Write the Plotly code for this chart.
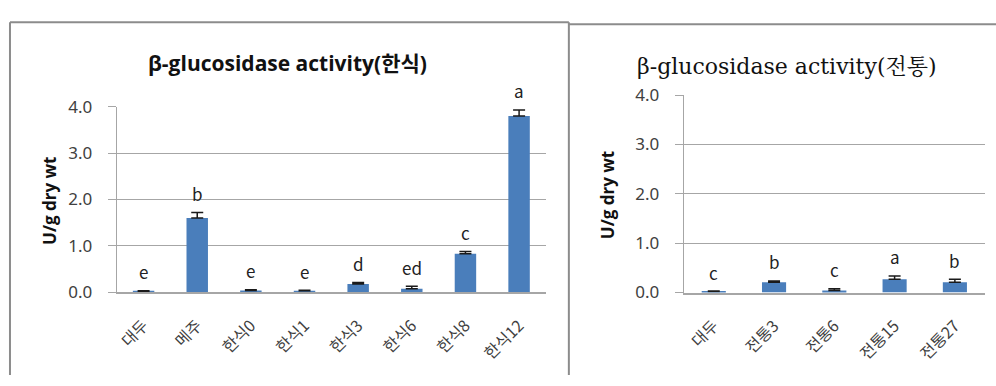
import plotly.graph_objects as go

# ---- data ----
cats_left = ["대두", "메주", "한식0", "한식1", "한식3", "한식6", "한식8", "한식12"]
vals_left = [0.02, 1.60, 0.04, 0.03, 0.18, 0.075, 0.83, 3.80]
errs_left = [0.01, 0.12, 0.015, 0.015, 0.03, 0.055, 0.05, 0.13]
letters_left = ["e", "b", "e", "e", "d", "ed", "c", "a"]

cats_right = ["대두", "전통3", "전통6", "전통15", "전통27"]
vals_right = [0.02, 0.21, 0.04, 0.27, 0.21]
errs_right = [0.01, 0.025, 0.035, 0.065, 0.06]
letters_right = ["c", "b", "c", "a", "b"]

title_left = "β-glucosidase activity(한식)"
title_right = "β-glucosidase activity(전통)"
ytitle = "U/g dry wt"
yticks = [0, 1, 2, 3, 4]

W, H = 996, 386
BAR = "#4a7ebb"
GRID = "#a6a6a6"
TICKC = "#404040"
KFONT = "Noto Sans CJK KR, Noto Sans, sans-serif"


def px(x):
    return x / W


def py(y):
    return 1 - y / H


fig = go.Figure()
fig.add_trace(go.Bar(
    x=cats_left, y=vals_left, xaxis="x", yaxis="y",
    marker=dict(color=BAR, line=dict(width=0)), width=0.4,
    error_y=dict(type="data", symmetric=False, array=errs_left, arrayminus=[0] * len(errs_left),
                 color="#1a1a1a", thickness=1.5, width=6),
    showlegend=False,
))
fig.add_trace(go.Bar(
    x=cats_right, y=vals_right, xaxis="x2", yaxis="y2",
    marker=dict(color=BAR, line=dict(width=0)), width=0.4,
    error_y=dict(type="data", symmetric=False, array=errs_right, arrayminus=[0] * len(errs_right),
                 color="#1a1a1a", thickness=1.5, width=6),
    showlegend=False,
))

annotations = []
for c, v, e, l in zip(cats_left, vals_left, errs_left, letters_left):
    annotations.append(dict(x=c, y=v + e, xref="x", yref="y", text=l, showarrow=False,
                            yanchor="middle", yshift=19,
                            font=dict(family=KFONT, size=17, color="#222222")))
for c, v, e, l in zip(cats_right, vals_right, errs_right, letters_right):
    annotations.append(dict(x=c, y=v + e, xref="x2", yref="y2", text=l, showarrow=False,
                            yanchor="middle", yshift=19,
                            font=dict(family=KFONT, size=17, color="#222222")))

# titles
annotations.append(dict(x=px(286), y=py(54), xref="paper", yref="paper", text="<b>" + title_left + "</b>",
                        showarrow=False, xanchor="center", yanchor="middle",
                        font=dict(family="Open Sans, Noto Sans CJK KR", size=21, color="#111111")))
annotations.append(dict(x=px(787), y=py(58), xref="paper", yref="paper", text=title_right,
                        showarrow=False, xanchor="center", yanchor="middle",
                        font=dict(family="DejaVu Serif, Noto Serif CJK KR, Noto Sans CJK KR", size=22, color="#111111")))
# y-axis titles
annotations.append(dict(x=px(47), y=py(201), xref="paper", yref="paper", text="<b>" + ytitle + "</b>",
                        showarrow=False, textangle=-90, xanchor="center", yanchor="middle",
                        font=dict(family="Open Sans, sans-serif", size=17, color="#111111")))
annotations.append(dict(x=px(607), y=py(195), xref="paper", yref="paper", text="<b>" + ytitle + "</b>",
                        showarrow=False, textangle=-90, xanchor="center", yanchor="middle",
                        font=dict(family="Open Sans, sans-serif", size=17, color="#111111")))

shapes = [
    # left panel border
    dict(type="line", xref="paper", yref="paper", x0=px(8), x1=px(8), y0=0, y1=py(11),
         line=dict(color="#8c8c8c", width=2)),
    dict(type="line", xref="paper", yref="paper", x0=px(8), x1=px(568), y0=py(11), y1=py(11),
         line=dict(color="#8c8c8c", width=2)),
    dict(type="line", xref="paper", yref="paper", x0=px(568), x1=px(568), y0=0, y1=py(11),
         line=dict(color="#8c8c8c", width=2)),
    # right panel top border
    dict(type="line", xref="paper", yref="paper", x0=px(568), x1=1, y0=py(13), y1=py(13),
         line=dict(color="#8c8c8c", width=2)),
]

axis_common = dict(
    range=[0, 4], tickvals=yticks, tickformat=".1f",
    showgrid=True, gridcolor=GRID, gridwidth=1,
    ticks="outside", ticklen=8, tickcolor=GRID,
    showline=True, linecolor=GRID, linewidth=1,
    zeroline=False, fixedrange=True, ticklabelstandoff=12,
    tickfont=dict(family="Noto Sans, sans-serif", size=17, color=TICKC),
)
xaxis_common = dict(
    showgrid=False, showline=True, linecolor=GRID, linewidth=1.5,
    ticks="", tickangle=-45, fixedrange=True, ticklabelstandoff=16,
    tickfont=dict(family=KFONT, size=16, color=TICKC),
)

fig.update_layout(
    width=W, height=H, margin=dict(l=0, r=0, t=0, b=0),
    paper_bgcolor="white", plot_bgcolor="white",
    bargap=0.6,
    xaxis=dict(domain=[px(115), px(545)], anchor="y", **xaxis_common),
    yaxis=dict(domain=[py(298), py(100.7)], anchor="x", **axis_common),
    xaxis2=dict(domain=[px(683), px(985)], anchor="y2", **xaxis_common),
    yaxis2=dict(domain=[py(298.3), py(88.3)], anchor="x2", **axis_common),
    annotations=annotations,
    shapes=shapes,
)

fig.write_html("out.html")
